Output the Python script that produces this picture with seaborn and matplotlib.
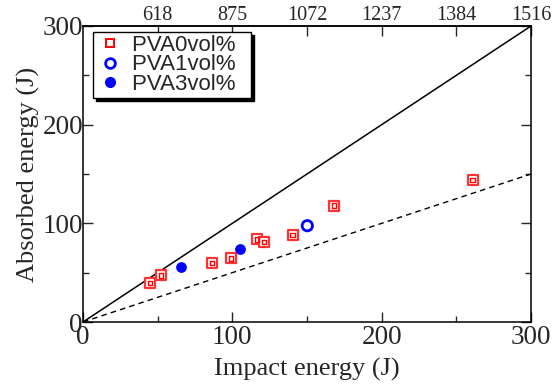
import matplotlib
matplotlib.use("Agg")
import matplotlib.pyplot as plt
import seaborn as sns
import pandas as pd
import numpy as np
from matplotlib.lines import Line2D

sns.set_theme(style="ticks")
plt.rcParams['font.family'] = ['Liberation Serif', 'DejaVu Serif']

# Data (Impact energy J, Absorbed energy J)
pva0_x = [44.9, 52.4, 86.4, 99.3, 116.5, 121.2, 140.4, 167.9, 260.9]
pva0_y = [39.8, 47.3, 59.5, 64.5, 83.8, 80.8, 88.2, 117.9, 143.9]
pva1_x = [150.2]
pva1_y = [97.6]
pva3_x = [65.4, 105.1]
pva3_y = [55.4, 73.7]

series_labels = ["PVA0vol%", "PVA1vol%", "PVA3vol%"]
top_ticks = [50, 100, 150, 200, 250, 300]
top_labels = ["618", "875", "1072", "1237", "1384", "1516"]

ref_x = [0, 300]
full_y = [0, 300]
half_y = [0, 150]

fig = plt.figure(figsize=(5.54, 3.85), dpi=100)
ax = fig.add_axes([83/554, 1-322/385, 448/554, 296/385])

# reference lines
sns.lineplot(x=ref_x, y=full_y, ax=ax, color="black", lw=1.1)
sns.lineplot(x=ref_x, y=half_y, ax=ax, color="black", lw=1.0, linestyle=(0, (4, 3)))

df0 = pd.DataFrame({"x": pva0_x, "y": pva0_y})
sns.scatterplot(data=df0, x="x", y="y", ax=ax, marker="s", s=50,
                facecolor="white", edgecolor="#ff3333", linewidth=1.6, zorder=3)
sns.scatterplot(data=df0, x="x", y="y", ax=ax, marker="s", s=10,
                facecolor="none", edgecolor="red", linewidth=1.0, zorder=4)
sns.scatterplot(x=pva1_x, y=pva1_y, ax=ax, marker="o", s=55,
                facecolor="none", edgecolor="blue", linewidth=2.0, zorder=3)
sns.scatterplot(x=pva3_x, y=pva3_y, ax=ax, marker="o", s=60,
                color="blue", edgecolor="blue", linewidth=0, zorder=3)

ax.set_xlim(0, 300)
ax.set_ylim(0, 300)
ax.set_xticks([0, 100, 200, 300])
ax.set_yticks([0, 100, 200, 300])
ax.set_xticks([50, 150, 250], minor=True)
ax.set_yticks([50, 150, 250], minor=True)
ax.tick_params(which="major", direction="in", length=7, width=1, labelsize=19.5, pad=0)
ax.tick_params(axis="x", which="major", pad=2)
ax.tick_params(which="minor", direction="in", length=4, width=1)
ax.tick_params(axis="y", which="both", right=True)
for sp in ax.spines.values():
    sp.set_linewidth(1.1)
    sp.set_color("black")

ax.set_xlabel("Impact energy (J)", fontsize=19, labelpad=6)
ax.set_ylabel("Absorbed energy (J)", fontsize=19, labelpad=2)

top = ax.secondary_xaxis("top")
top.set_xticks(top_ticks)
top.set_xticklabels(top_labels)
top.tick_params(direction="in", length=7, width=1, labelsize=14.5, pad=1)

h0 = Line2D([], [], marker="s", ls="none", markersize=6, markerfacecolor="white",
            markeredgecolor="red", markeredgewidth=1.4)
h1 = Line2D([], [], marker="o", ls="none", markersize=7, markerfacecolor="none",
            markeredgecolor="blue", markeredgewidth=2)
h3 = Line2D([], [], marker="o", ls="none", markersize=7, markerfacecolor="blue",
            markeredgecolor="blue")
leg = ax.legend([h0, h1, h3], [lab + "  " for lab in series_labels],
                loc="upper left", bbox_to_anchor=(0.013, 0.995),
                prop={"family": "Liberation Sans", "size": 16},
                frameon=True, fancybox=False, shadow={"color": "black", "alpha": 1},
                borderpad=0.15, labelspacing=-0.08, handletextpad=0.4, handlelength=1.2,
                borderaxespad=0.2)
leg.get_frame().set_edgecolor("black")
leg.get_frame().set_linewidth(1.0)
leg.get_frame().set_alpha(1)

fig.savefig("out.png", dpi=100)
